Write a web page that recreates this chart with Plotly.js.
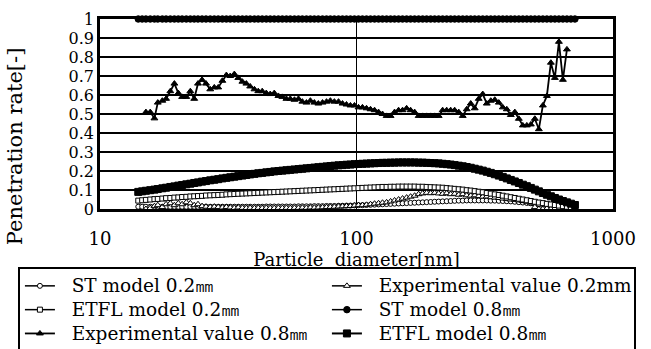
<!DOCTYPE html>
<html>
<head>
<meta charset="utf-8">
<script src="https://cdn.plot.ly/plotly-3.0.1.min.js"></script>
<style>html,body{margin:0;padding:0;background:#fff;}#chart{width:651px;height:349px;}</style>
</head>
<body>
<div id="chart"></div>
<script>
// Particle diameters [nm] for the model curves
const modelDiam = [
  14.1,14.6,15.1,15.7,16.3,16.8,17.5,18.1,18.8,19.5,
  20.2,20.9,21.7,22.5,23.3,24.1,25.0,25.9,26.9,27.9,
  28.9,30.0,31.1,32.2,33.4,34.6,35.9,37.2,38.5,40.0,
  41.4,42.9,44.5,46.1,47.8,49.6,51.4,53.3,55.2,57.3,
  59.4,61.5,63.8,66.1,68.5,71.0,73.7,76.4,79.1,82.0,
  85.1,88.2,91.4,94.7,98.2,101.8,105.5,109.4,113.4,117.6,
  121.9,126.3,131.0,135.8,140.7,145.9,151.2,156.8,162.5,168.5,
  174.7,181.1,187.7,194.6,201.7,209.1,216.7,224.7,232.9,241.4,
  250.3,259.5,269.0,278.8,289.0,299.6,310.6,322.0,333.8,346.0,
  358.7,371.8,385.4,399.5,414.2,429.4,445.1,461.4,478.3,495.8,
  514.0,532.8,552.3,572.5,593.5,615.3,637.8,661.2,685.4,710.5
];
// Particle diameters [nm] for the measured values
const expDiam = [
  15.1,15.7,16.3,16.8,17.5,18.1,18.8,19.5,20.2,20.9,
  21.7,22.5,23.3,24.1,25.0,25.9,26.9,27.9,28.9,30.0,
  31.1,32.2,33.4,34.6,35.9,37.2,38.5,40.0,41.4,42.9,
  44.5,46.1,47.8,49.6,51.4,53.3,55.2,57.3,59.4,61.5,
  63.8,66.1,68.5,71.0,73.7,76.4,79.1,82.0,85.1,88.2,
  91.4,94.7,98.2,101.8,105.5,109.4,113.4,117.6,121.9,126.3,
  131.0,135.8,140.7,145.9,151.2,156.8,162.5,168.5,174.7,181.1,
  187.7,194.6,201.7,209.1,216.7,224.7,232.9,241.4,250.3,259.5,
  269.0,278.8,289.0,299.6,310.6,322.0,333.8,346.0,358.7,371.8,
  385.4,399.5,414.2,429.4,445.1,461.4,478.3,495.8,514.0,532.8,
  552.3,572.5,593.5,615.3,637.8,661.2
];

const stModel02 = [
  0.012,0.012,0.012,0.012,0.012,0.012,0.012,0.012,0.012,0.012,
  0.012,0.012,0.012,0.012,0.012,0.012,0.012,0.012,0.012,0.012,
  0.012,0.012,0.012,0.012,0.012,0.012,0.012,0.012,0.012,0.012,
  0.012,0.012,0.013,0.013,0.013,0.013,0.013,0.013,0.013,0.013,
  0.014,0.014,0.014,0.014,0.015,0.015,0.015,0.016,0.016,0.016,
  0.017,0.017,0.018,0.018,0.019,0.020,0.020,0.021,0.022,0.023,
  0.024,0.025,0.026,0.027,0.028,0.029,0.030,0.031,0.032,0.033,
  0.034,0.035,0.036,0.037,0.038,0.039,0.040,0.041,0.042,0.043,
  0.044,0.044,0.045,0.045,0.045,0.045,0.045,0.045,0.044,0.044,
  0.043,0.042,0.041,0.040,0.038,0.036,0.034,0.032,0.030,0.028,
  0.025,0.022,0.019,0.016,0.013,0.010,0.008,0.006,0.004,0.003
];
const expValue02 = [
  0.000,0.005,0.015,0.020,0.010,0.025,0.030,0.020,0.030,0.025,
  0.035,0.030,0.020,0.025,0.015,0.012,0.010,0.012,0.010,0.008,
  0.010,0.008,0.006,0.008,0.006,0.005,0.006,0.005,0.006,0.005,
  0.006,0.005,0.005,0.006,0.005,0.006,0.005,0.006,0.006,0.007,
  0.006,0.008,0.007,0.008,0.009,0.010,0.011,0.012,0.013,0.014,
  0.015,0.016,0.018,0.020,0.020,0.022,0.025,0.028,0.030,0.033,
  0.035,0.040,0.045,0.050,0.055,0.060,0.065,0.070,0.078,0.082,
  0.085,0.083,0.085,0.082,0.080,0.083,0.078,0.080,0.075,0.078,
  0.072,0.070,0.072,0.068,0.065,0.066,0.062,0.060,0.058,0.055,
  0.052,0.050,0.048,0.045,0.042,0.038,0.030,0.010,0.000,0.000,
  0.002,0.000,0.003,0.001,0.002,0.000
];
const etflModel02 = [
  0.044,0.046,0.048,0.050,0.052,0.053,0.055,0.057,0.058,0.060,
  0.061,0.063,0.064,0.066,0.067,0.068,0.069,0.071,0.072,0.073,
  0.074,0.075,0.077,0.078,0.079,0.080,0.081,0.082,0.083,0.084,
  0.085,0.086,0.087,0.088,0.089,0.090,0.091,0.092,0.093,0.094,
  0.095,0.096,0.097,0.098,0.099,0.100,0.101,0.102,0.103,0.104,
  0.105,0.106,0.107,0.108,0.109,0.110,0.111,0.112,0.113,0.114,
  0.115,0.116,0.116,0.117,0.117,0.118,0.118,0.118,0.118,0.118,
  0.117,0.117,0.116,0.115,0.114,0.113,0.112,0.110,0.108,0.106,
  0.104,0.102,0.099,0.097,0.094,0.091,0.088,0.084,0.081,0.077,
  0.074,0.070,0.066,0.062,0.058,0.054,0.050,0.046,0.042,0.038,
  0.034,0.031,0.027,0.024,0.021,0.018,0.015,0.012,0.010,0.008
];
const stModel08 = [
  1,1,1,1,1,1,1,1,1,1, 1,1,1,1,1,1,1,1,1,1,
  1,1,1,1,1,1,1,1,1,1, 1,1,1,1,1,1,1,1,1,1,
  1,1,1,1,1,1,1,1,1,1, 1,1,1,1,1,1,1,1,1,1,
  1,1,1,1,1,1,1,1,1,1, 1,1,1,1,1,1,1,1,1,1,
  1,1,1,1,1,1,1,1,1,1, 1,1,1,1,1,1,1,1,1,1,
  1,1,1,1,1,1,1,1,1,1
];
const expValue08 = [
  0.510,0.510,0.477,0.560,0.570,0.580,0.620,0.660,0.610,0.590,
  0.590,0.620,0.580,0.660,0.680,0.660,0.630,0.640,0.640,0.675,
  0.705,0.700,0.710,0.690,0.670,0.660,0.645,0.630,0.620,0.620,
  0.610,0.605,0.610,0.595,0.590,0.580,0.580,0.575,0.580,0.565,
  0.560,0.570,0.560,0.555,0.560,0.565,0.570,0.565,0.565,0.555,
  0.550,0.545,0.545,0.535,0.535,0.530,0.525,0.520,0.510,0.500,
  0.490,0.490,0.510,0.520,0.520,0.530,0.520,0.510,0.490,0.490,
  0.490,0.490,0.490,0.490,0.520,0.520,0.520,0.520,0.510,0.490,
  0.525,0.555,0.530,0.580,0.605,0.555,0.570,0.575,0.560,0.535,
  0.525,0.495,0.510,0.475,0.440,0.440,0.445,0.475,0.420,0.545,
  0.595,0.770,0.690,0.880,0.680,0.840
];
const etflModel08 = [
  0.090,0.093,0.096,0.099,0.102,0.105,0.109,0.112,0.116,0.119,
  0.123,0.126,0.130,0.133,0.137,0.140,0.144,0.147,0.151,0.154,
  0.157,0.161,0.164,0.167,0.170,0.173,0.176,0.179,0.182,0.185,
  0.188,0.190,0.193,0.195,0.198,0.200,0.202,0.204,0.206,0.208,
  0.210,0.212,0.214,0.216,0.218,0.220,0.222,0.224,0.226,0.228,
  0.230,0.231,0.233,0.234,0.236,0.237,0.238,0.239,0.240,0.241,
  0.242,0.243,0.243,0.244,0.244,0.245,0.245,0.245,0.245,0.245,
  0.244,0.244,0.243,0.242,0.241,0.240,0.238,0.236,0.234,0.231,
  0.228,0.225,0.221,0.217,0.212,0.207,0.202,0.196,0.190,0.183,
  0.176,0.169,0.161,0.153,0.145,0.137,0.128,0.120,0.111,0.102,
  0.093,0.084,0.075,0.067,0.058,0.050,0.042,0.035,0.028,0.021
];

const seriesNames = [
  'ST model 0.2㎜', 'Experimental value 0.2mm', 'ETFL model 0.2㎜',
  'ST model 0.8㎜', 'Experimental value 0.8㎜', 'ETFL model 0.8㎜'
];
const xTickVals = [10, 100, 1000];
const xTickText = ['10', '100', '1000'];
const yTickVals = [0,0.1,0.2,0.3,0.4,0.5,0.6,0.7,0.8,0.9,1];
const yTickText = ['0','0.1','0.2','0.3','0.4','0.5','0.6','0.7','0.8','0.9','1'];
const xTitle = 'Particle  diameter[nm]';
const yTitle = 'Penetration rate[-]';

const FONT = 'DejaVu Serif';
const NB = '\u00a0';

// Legend label: slightly larger text than the row-height font, shifted right a little
function legendLabel(name) {
  return '<span style="font-size:18.5px">' + NB + NB + name + '</span>';
}

function tr(name, x, y, symbol, fill, size, lw, mlw) {
  return {
    type: 'scatter', mode: 'lines+markers', name: legendLabel(name), x: x, y: y,
    line: {color: '#000', width: lw},
    marker: {symbol: symbol, color: fill, size: size, line: {color: '#000', width: mlw}},
    cliponaxis: false
  };
}

const data = [
  tr(seriesNames[0], modelDiam, stModel02, 'circle', '#fff', 5, 1.5, 1),
  tr(seriesNames[1], expDiam, expValue02, 'triangle-up', '#fff', 6, 1.5, 1),
  tr(seriesNames[2], modelDiam, etflModel02, 'square', '#fff', 5, 1.5, 1),
  tr(seriesNames[3], modelDiam, stModel08, 'circle', '#000', 6.5, 1.5, 1),
  tr(seriesNames[4], expDiam, expValue08, 'triangle-up', '#000', 6, 1.8, 1),
  tr(seriesNames[5], modelDiam, etflModel08, 'square', '#000', 7, 2, 1)
];

const layout = {
  width: 651, height: 349,
  margin: {l: 100, r: 38, t: 19, b: 140, pad: 0, autoexpand: false},
  paper_bgcolor: '#fff', plot_bgcolor: '#fff',
  font: {family: FONT, color: '#000', size: 18},
  showlegend: true,
  xaxis: {
    type: 'log', range: [1, 3],
    tickvals: xTickVals, ticktext: xTickText,
    ticks: 'outside', ticklen: 12, tickcolor: 'rgba(0,0,0,0)',
    showgrid: true, gridcolor: '#000', gridwidth: 1.4,
    showline: true, mirror: true, linecolor: '#000', linewidth: 2.8,
    zeroline: false,
    tickfont: {family: FONT, size: 18, color: '#000'},
    title: {text: xTitle, font: {family: FONT, size: 18, color: '#000'}, standoff: 0},
    automargin: false
  },
  yaxis: {
    range: [0, 1],
    tickvals: yTickVals, ticktext: yTickText,
    ticks: '',
    showgrid: true, gridcolor: '#000', gridwidth: 1.4,
    showline: true, mirror: true, linecolor: '#000', linewidth: 2.8,
    zeroline: false,
    tickfont: {family: FONT, size: 16, color: '#000'},
    automargin: false
  },
  annotations: [{
    text: yTitle, textangle: -90,
    xref: 'paper', yref: 'paper',
    x: -0.166, y: 0.33, xanchor: 'center', yanchor: 'middle',
    showarrow: false,
    font: {family: FONT, size: 21, color: '#000'}
  }],
  legend: {
    orientation: 'h',
    x: -0.16, xanchor: 'left',
    y: -0.305, yanchor: 'top',
    bordercolor: '#000', borderwidth: 2, bgcolor: '#fff',
    font: {family: FONT, size: 16, color: '#000'},
    entrywidth: 262, entrywidthmode: 'pixels',
    traceorder: 'normal'
  }
};

Plotly.newPlot('chart', data, layout, {staticPlot: true, displayModeBar: false});
</script>
</body>
</html>
